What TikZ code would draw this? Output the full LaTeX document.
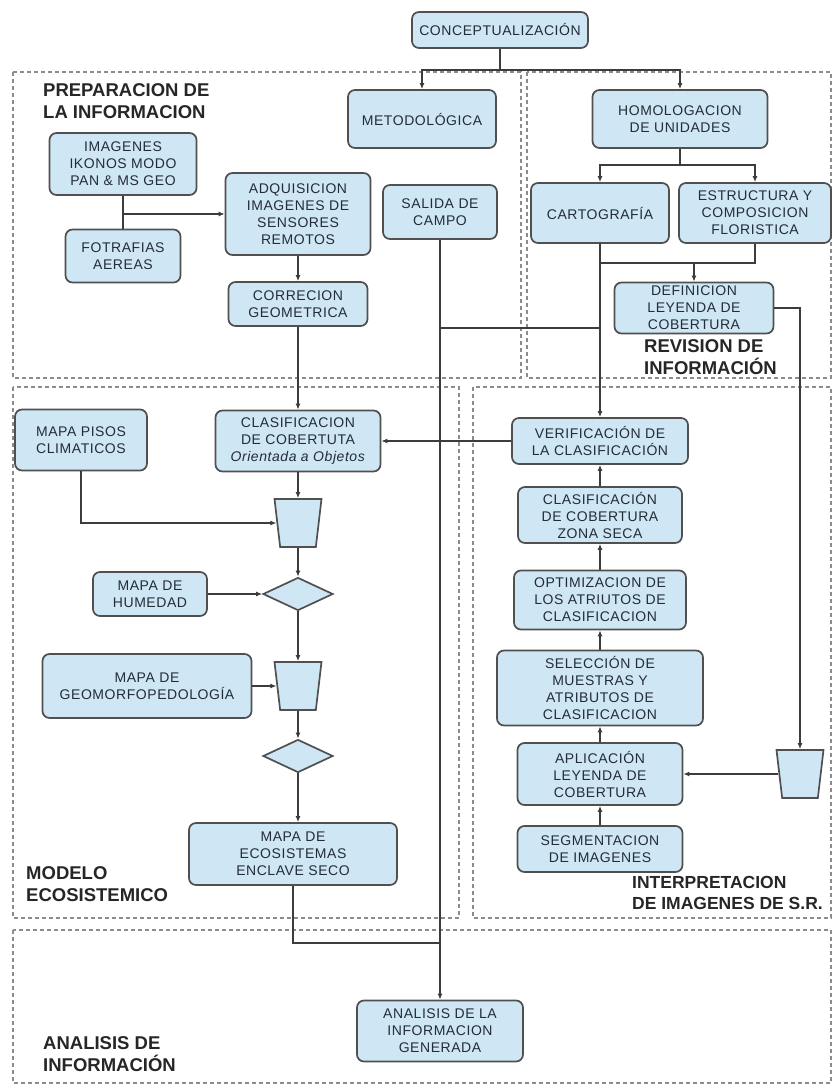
\documentclass[tikz,border=0pt]{standalone}
\usepackage{fontspec}
\setmainfont{Liberation Sans}
\newfontfamily\boxfont{Liberation Sans}[LetterSpace=4]
\usetikzlibrary{shapes.geometric,arrows.meta}
\definecolor{boxfill}{RGB}{207,230,245}
\definecolor{boxline}{RGB}{80,80,80}
\definecolor{boxtext}{RGB}{35,45,55}
\definecolor{linecol}{RGB}{60,60,60}
\definecolor{regline}{RGB}{140,140,140}

\begin{document}
\begin{tikzpicture}[x=1pt, y=-1pt,
	main/.style={draw=boxline, line width=1.7pt, fill=boxfill, rounded corners=7pt, align=center, text=boxtext, font=\boxfont\fontsize{14}{17}\selectfont, inner sep=2pt},
	trap/.style={draw=boxline, line width=1.7pt, fill=boxfill, trapezium, shape border rotate=180, trapezium angle=81, trapezium stretches=true, minimum width=47, minimum height=48, inner sep=2pt},
	diam/.style={draw=boxline, line width=1.7pt, fill=boxfill, diamond, minimum width=70, minimum height=33, inner sep=2pt},
	title/.style={align=left, anchor=west, inner sep=0pt, text=black!85, font=\fontsize{18.5}{21.5}\selectfont\bfseries},
	region/.style={draw=regline, line width=1.2pt, dash pattern=on 4pt off 3pt},
	arr/.style={draw=linecol, line width=1.2pt, -{Latex[length=6pt,width=5pt]}},
	ln/.style={draw=linecol, line width=1.2pt}]
		\useasboundingbox (0,0) rectangle (832,1086);

		\draw[region] (13,72) rectangle (521,378);
		\draw[region] (527,72) rectangle (831,378);
		\draw[region] (13,387) rectangle (459,918);
		\draw[region] (473,387) rectangle (831,918);
		\draw[region] (13,930) rectangle (831,1083);

		\node[title] (t1) at (43,101) {PREPARACION DE\\LA INFORMACION};
		\node[title] (t2) at (644,357) {REVISION DE\\INFORMACIÓN};
		\node[title] (t3) at (26,884) {MODELO\\ECOSISTEMICO};
		\node[title, font=\fontsize{17.5}{21.5}\selectfont\bfseries] (t4) at (632,893) {INTERPRETACION\\DE IMAGENES DE S.R.};
		\node[title] (t5) at (43,1054) {ANALISIS DE\\INFORMACIÓN};

		\node[main, minimum width=176, minimum height=36] (1) at (500,30) {CONCEPTUALIZACIÓN};
		\node[main, minimum width=148, minimum height=58] (2) at (422,119) {METODOLÓGICA};
		\node[main, minimum width=175, minimum height=58] (3) at (680,119) {HOMOLOGACION\\DE UNIDADES};
		\node[main, minimum width=138, minimum height=60] (4) at (600,213) {CARTOGRAFÍA};
		\node[main, minimum width=152, minimum height=60] (5) at (755,213) {ESTRUCTURA Y\\COMPOSICION\\FLORISTICA};
		\node[main, minimum width=159, minimum height=51] (6) at (694,308) {DEFINICION\\LEYENDA DE\\COBERTURA};
		\node[main, minimum width=114, minimum height=54] (7) at (440,212) {SALIDA DE\\CAMPO};
		\node[main, minimum width=147, minimum height=62] (8) at (123,164) {IMAGENES\\IKONOS MODO\\PAN \& MS GEO};
		\node[main, minimum width=115, minimum height=53] (9) at (123,256) {FOTRAFIAS\\AEREAS};
		\node[main, minimum width=145, minimum height=82] (10) at (298,214) {ADQUISICION\\IMAGENES DE\\SENSORES\\REMOTOS};
		\node[main, minimum width=139, minimum height=44] (11) at (298,304) {CORRECION\\GEOMETRICA};
		\node[main, minimum width=165, minimum height=61] (12) at (298,441) {CLASIFICACION\\DE COBERTUTA\\\textit{Orientada a Objetos}};
		\node[main, minimum width=176, minimum height=46] (13) at (600,441) {VERIFICACIÓN DE\\LA CLASIFICACIÓN};
		\node[main, minimum width=164, minimum height=56] (14) at (600,515) {CLASIFICACIÓN\\DE COBERTURA\\ZONA SECA};
		\node[main, minimum width=172, minimum height=59] (15) at (600,600) {OPTIMIZACION DE\\LOS ATRIUTOS DE\\CLASIFICACION};
		\node[main, minimum width=206, minimum height=75] (16) at (600,688) {SELECCIÓN DE\\MUESTRAS Y\\ATRIBUTOS DE\\CLASIFICACION};
		\node[main, minimum width=165, minimum height=62] (17) at (600,774) {APLICACIÓN\\LEYENDA DE\\COBERTURA};
		\node[main, minimum width=165, minimum height=46] (18) at (600,849) {SEGMENTACION\\DE IMAGENES};
		\node[trap] (19) at (800,774) {};
		\node[main, minimum width=132, minimum height=61] (20) at (81,440) {MAPA PISOS\\CLIMATICOS};
		\node[trap] (21) at (298,523) {};
		\node[diam] (22) at (298,594) {};
		\node[main, minimum width=114, minimum height=44] (23) at (150,594) {MAPA DE\\HUMEDAD};
		\node[trap] (24) at (298,686) {};
		\node[main, minimum width=209, minimum height=64] (25) at (147,686) {MAPA DE\\GEOMORFOPEDOLOGÍA};
		\node[diam] (26) at (298,756) {};
		\node[main, minimum width=208, minimum height=62] (27) at (293,854) {MAPA DE\\ECOSISTEMAS\\ENCLAVE SECO};
		\node[main, minimum width=166, minimum height=61] (28) at (440,1031) {ANALISIS DE LA\\INFORMACION\\GENERADA};

		\coordinate (c1) at (500,70);
		\coordinate (c2) at (680,165);
		\coordinate (c3) at (600,263);
		\coordinate (c4) at (694,263);
		\coordinate (c5) at (440,328);
		\coordinate (c6) at (600,328);
		\coordinate (c7) at (123,214);
		\coordinate (c8) at (440,943);

		\draw[ln] (1) -- (c1);
		\draw[arr] (c1) -| (2);
		\draw[arr] (c1) -| (3);
		\draw[ln] (3) -- (c2);
		\draw[arr] (c2) -| (4);
		\draw[arr] (c2) -| (5);
		\draw[ln] (5) |- (c3);
		\draw[arr] (c4) -- (6);
		\draw[arr] (4) -- (13);
		\draw[ln] (c5) -- (c6);
		\draw[arr] (7) -- (28);
		\draw[ln] (27) |- (c8);
		\draw[arr] (6) -| (19);
		\draw[arr] (19) -- (17);
		\draw[ln] (8) -- (9);
		\draw[arr] (c7) -- (10);
		\draw[arr] (10) -- (11);
		\draw[arr] (11) -- (12);
		\draw[arr] (13) -- (12);
		\draw[arr] (14) -- (13);
		\draw[arr] (15) -- (14);
		\draw[arr] (16) -- (15);
		\draw[arr] (17) -- (16);
		\draw[arr] (18) -- (17);
		\draw[arr] (12) -- (21);
		\draw[arr] (20) |- (21);
		\draw[arr] (21) -- (22);
		\draw[arr] (23) -- (22);
		\draw[arr] (22) -- (24);
		\draw[arr] (25) -- (24);
		\draw[arr] (24) -- (26);
		\draw[arr] (26) -- (26 |- 27.north);
	\end{tikzpicture}
\end{document}
